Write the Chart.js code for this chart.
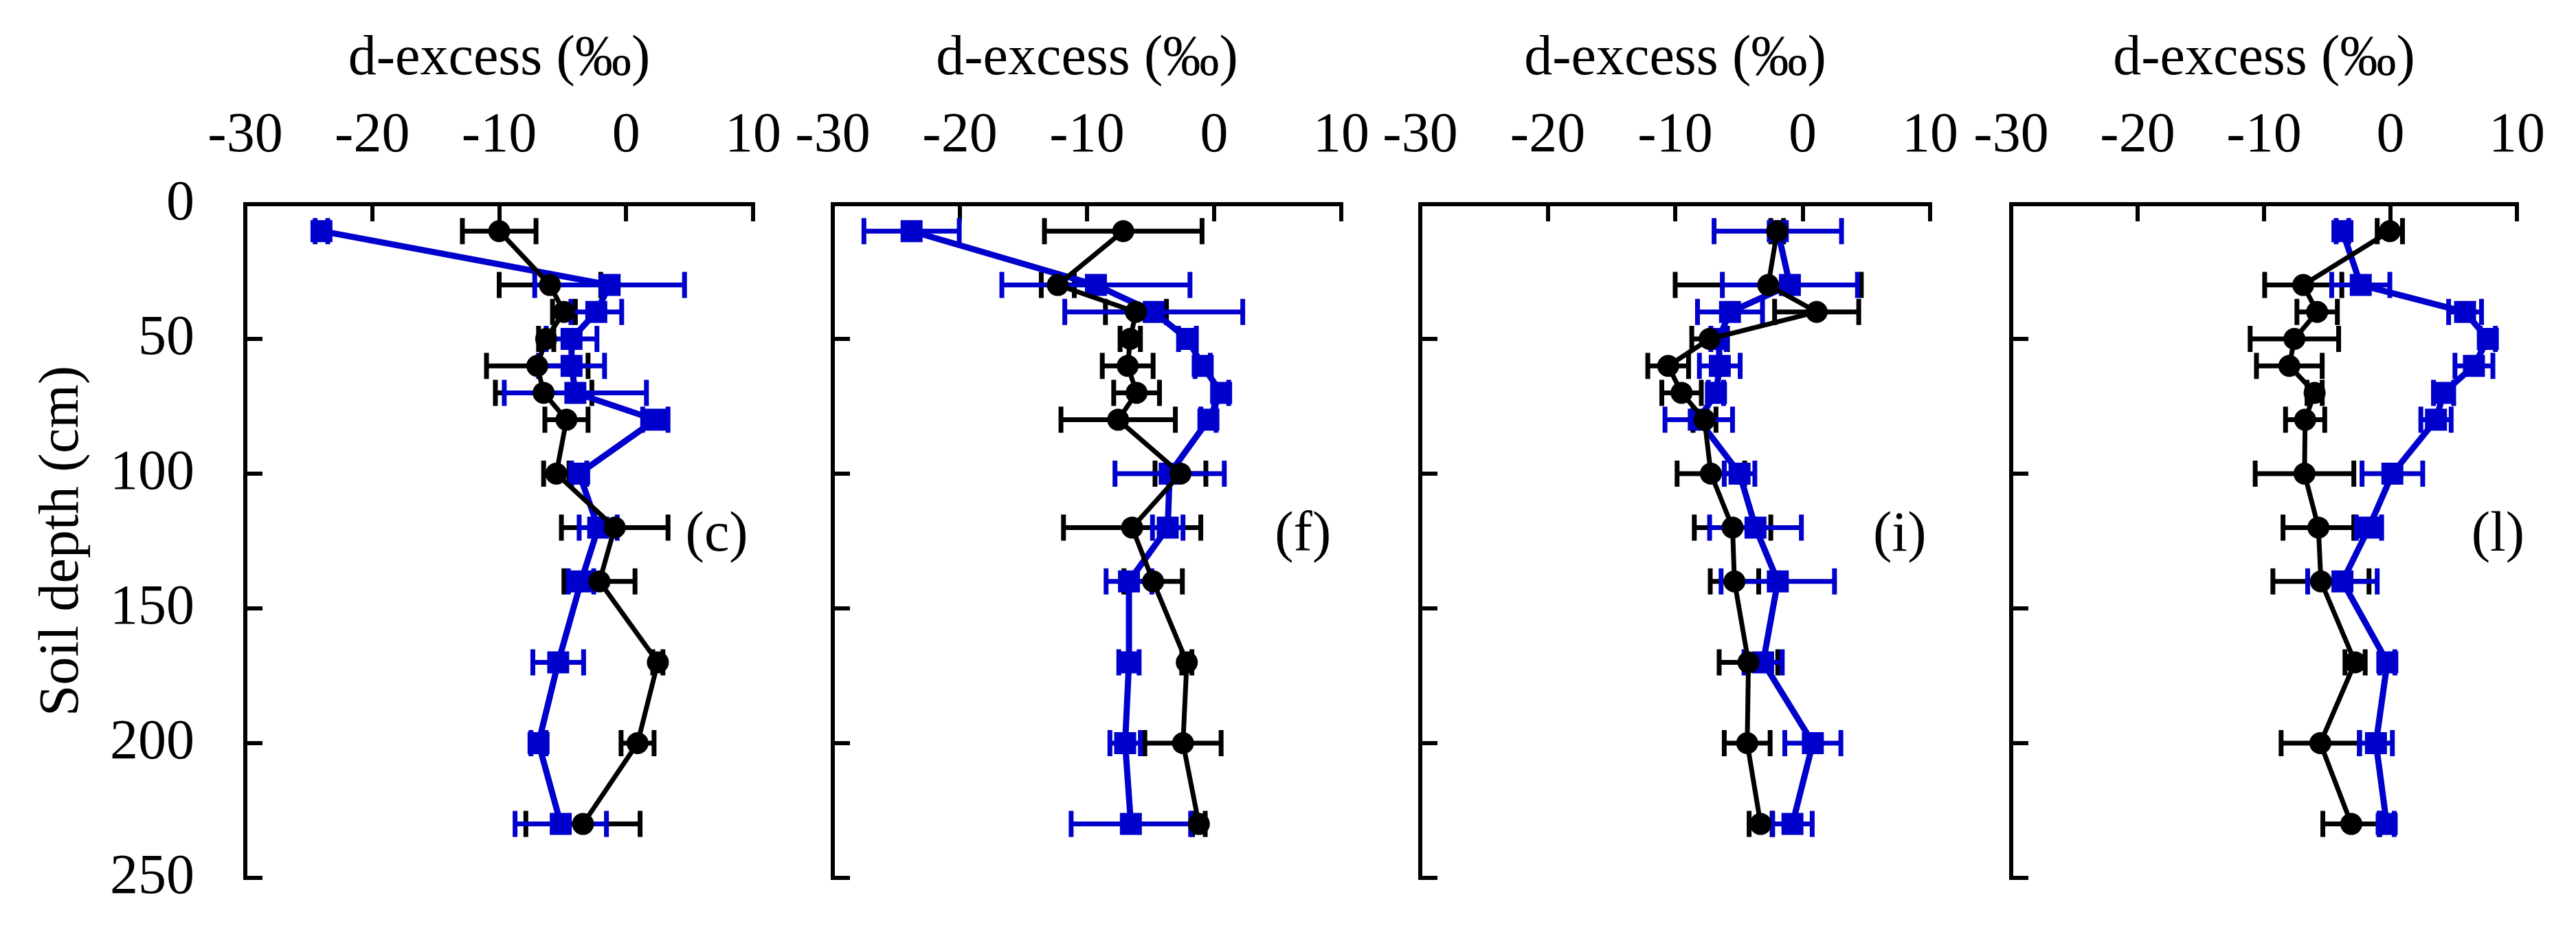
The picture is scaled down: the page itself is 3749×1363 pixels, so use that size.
<!DOCTYPE html>
<html>
<head>
<meta charset="utf-8">
<title>d-excess soil profiles</title>
<script src="https://cdn.jsdelivr.net/npm/chart.js@4.4.1/dist/chart.umd.min.js"></script>
<style>
  html, body { margin: 0; padding: 0; background: #fff; }
  body { width: 3749px; height: 1363px; position: relative; overflow: hidden; }
  canvas { position: absolute; top: 0; }
</style>
</head>
<body>
<canvas id="panel-c"></canvas>
<canvas id="panel-f"></canvas>
<canvas id="panel-i"></canvas>
<canvas id="panel-l"></canvas>
<script>
// sampling depths (cm), shared by every profile
const depths = [10, 30, 40, 50, 60, 70, 80, 100, 120, 140, 170, 200, 230];
const xTicks = [-30, -20, -10, 0, 10];
const yTicks = [0, 50, 100, 150, 200, 250];

// (c)
const cBlack    = [-10.0, -6.0, -4.9, -6.3, -7.0, -6.5, -4.7, -5.5, -0.9, -2.1, 2.5, 0.9, -3.4];
const cBlackErr = [2.9, 4.0, 0.9, 0.6, 4.0, 3.8, 1.7, 1.0, 4.2, 2.8, 0.4, 1.3, 4.5];
const cBlue     = [-24.0, -1.3, -2.35, -4.3, -4.3, -4.0, 2.3, -3.7, -2.2, -3.55, -5.35, -6.9, -5.15];
const cBlueErr  = [0.5, 5.9, 2.0, 2.0, 2.6, 5.6, 1.0, 0.6, 1.5, 1.0, 2.0, 0.6, 3.6];

// (f)
const fBlack    = [-7.15, -12.3, -6.15, -6.6, -6.8, -6.1, -7.55, -2.65, -6.45, -4.8, -2.15, -2.45, -1.2];
const fBlackErr = [6.2, 1.3, 2.4, 0.8, 2.0, 1.8, 4.5, 2.0, 5.4, 2.3, 0.4, 3.0, 0.5];
const fBlue     = [-23.8, -9.3, -4.75, -2.1, -0.9, 0.55, -0.45, -3.5, -3.65, -6.7, -6.7, -7.0, -6.55];
const fBlueErr  = [3.75, 7.4, 7.0, 0.7, 0.6, 0.6, 0.6, 4.3, 1.2, 1.8, 0.8, 1.2, 4.7];

// (i)
const iBlack    = [-2.0, -2.7, 1.1, -7.3, -10.55, -9.5, -7.7, -7.2, -5.5, -5.35, -4.25, -4.35, -3.3];
const iBlackErr = [0.5, 7.3, 3.3, 1.4, 1.6, 1.55, 0.9, 2.65, 3.0, 1.9, 2.3, 1.8, 0.9];
const iBlue     = [-1.95, -1.0, -5.7, -6.6, -6.5, -6.8, -8.15, -4.95, -3.7, -1.95, -3.1, 0.8, -0.8];
const iBlueErr  = [5.0, 5.3, 2.55, 0.6, 1.6, 0.6, 2.65, 1.2, 3.6, 4.45, 1.5, 2.2, 1.55];

// (l)
const lBlack    = [-0.05, -6.9, -5.8, -7.6, -8.0, -6.0, -6.75, -6.8, -5.7, -5.5, -2.8, -5.55, -3.1];
const lBlackErr = [1.0, 3.05, 1.6, 3.5, 2.6, 0.6, 1.55, 3.9, 2.8, 3.8, 0.8, 3.1, 2.25];
const lBlue     = [-3.8, -2.35, 5.9, 7.7, 6.6, 4.2, 3.6, 0.15, -1.7, -3.8, -0.25, -1.15, -0.3];
const lBlueErr  = [0.5, 2.3, 1.3, 0.6, 1.5, 0.8, 1.2, 2.4, 1.0, 2.75, 0.6, 1.3, 0.6];

const BLUE = '#0000cc';
const BLACK = '#000000';
const FONT = "'Liberation Serif', 'Times New Roman', serif";

Chart.defaults.font.family = FONT;
Chart.defaults.font.size = 82;
Chart.defaults.color = BLACK;

// horizontal error bars with end caps
const errorBars = {
  id: 'errorBars',
  beforeDatasetsDraw(chart) {
    const { ctx, scales: { x, y } } = chart;
    chart.data.datasets.forEach(ds => {
      if (!ds.errors) return;
      ctx.save();
      ctx.strokeStyle = ds.borderColor;
      ctx.lineWidth = 7;
      ds.data.forEach((p, i) => {
        const e = ds.errors[i];
        if (!e) return;
        const py = y.getPixelForValue(p.y);
        const x0 = x.getPixelForValue(p.x - e);
        const x1 = x.getPixelForValue(p.x + e);
        ctx.beginPath();
        ctx.moveTo(x0, py); ctx.lineTo(x1, py);
        ctx.moveTo(x0, py - 19); ctx.lineTo(x0, py + 19);
        ctx.moveTo(x1, py - 19); ctx.lineTo(x1, py + 19);
        ctx.stroke();
      });
      ctx.restore();
    });
  }
};

// panel letter, e.g. "(c)"
const panelLetter = {
  id: 'panelLetter',
  afterDraw(chart, args, opts) {
    const { ctx, scales: { x, y } } = chart;
    ctx.save();
    ctx.font = '82px ' + FONT;
    ctx.fillStyle = BLACK;
    ctx.textAlign = 'right';
    ctx.textBaseline = 'middle';
    ctx.fillText(opts.text, x.getPixelForValue(opts.x), y.getPixelForValue(opts.y));
    ctx.restore();
  }
};

const toPoints = vals => vals.map((v, i) => ({ x: v, y: depths[i] }));

const panels = [
  { id: 'panel-c', text: '(c)', textX: 9.6,  black: cBlack, blackErr: cBlackErr, blue: cBlue, blueErr: cBlueErr, plotLeft: 357,  plotRight: 1096, yWidth: 357, first: true },
  { id: 'panel-f', text: '(f)', textX: 9.2,  black: fBlack, blackErr: fBlackErr, blue: fBlue, blueErr: fBlueErr, plotLeft: 1212, plotRight: 1952, yWidth: 130 },
  { id: 'panel-i', text: '(i)', textX: 9.7,  black: iBlack, blackErr: iBlackErr, blue: iBlue, blueErr: iBlueErr, plotLeft: 2067, plotRight: 2809, yWidth: 130 },
  { id: 'panel-l', text: '(l)', textX: 10.6, black: lBlack, blackErr: lBlackErr, blue: lBlue, blueErr: lBlueErr, plotLeft: 2927, plotRight: 3663, yWidth: 130 }
];

const TOP = 297;      // plot top (x axis line)
const BOTTOM = 1277;  // plot bottom (250 cm)
const PAD_RIGHT = 80;

// fixed box size, and no extra label padding pushed into the layout
const fixSize = (s, w, h) => {
  if (w !== undefined) s.width = w;
  if (h !== undefined) s.height = h;
  s.paddingLeft = s.paddingRight = s.paddingTop = s.paddingBottom = 0;
};

panels.forEach(p => {
  const canvas = document.getElementById(p.id);
  const w = p.yWidth + (p.plotRight - p.plotLeft) + PAD_RIGHT;
  canvas.width = w;
  canvas.height = 1363;
  canvas.style.left = (p.plotLeft - p.yWidth) + 'px';
  canvas.style.width = w + 'px';
  canvas.style.height = '1363px';

  new Chart(canvas, {
    type: 'scatter',
    data: {
      datasets: [
        {
          data: toPoints(p.black),
          errors: p.blackErr,
          showLine: true,
          borderColor: BLACK,
          backgroundColor: BLACK,
          borderWidth: 7,
          pointStyle: 'circle',
          pointRadius: 16,
          pointBorderWidth: 0
        },
        {
          data: toPoints(p.blue),
          errors: p.blueErr,
          showLine: true,
          borderColor: BLUE,
          backgroundColor: BLUE,
          borderWidth: 9,
          pointStyle: 'rect',
          pointRadius: 22.6,
          pointBorderWidth: 0
        }
      ]
    },
    options: {
      responsive: false,
      animation: false,
      events: [],
      layout: { padding: { top: 0, left: 0, right: PAD_RIGHT, bottom: 1363 - BOTTOM } },
      plugins: {
        legend: { display: false },
        tooltip: { enabled: false },
        panelLetter: { text: p.text, x: p.textX, y: 123 }
      },
      scales: {
        x: {
          type: 'linear',
          position: 'top',
          min: xTicks[0],
          max: xTicks[xTicks.length - 1],
          afterFit: s => fixSize(s, undefined, TOP),
          ticks: { stepSize: xTicks[1] - xTicks[0], padding: 74, maxRotation: 0 },
          grid: { drawOnChartArea: false, drawTicks: true, tickLength: -25, lineWidth: 6, color: BLACK },
          border: { display: true, width: 6, color: BLACK },
          title: { display: true, text: 'd-excess (‰)', padding: { top: 37, bottom: 0 } }
        },
        y: {
          type: 'linear',
          position: 'left',
          reverse: true,
          min: yTicks[0],
          max: yTicks[yTicks.length - 1],
          afterFit: s => fixSize(s, p.yWidth, undefined),
          ticks: { display: !!p.first, stepSize: yTicks[1] - yTicks[0], padding: 99 },
          grid: { drawOnChartArea: false, drawTicks: true, tickLength: -25, lineWidth: 6, color: BLACK },
          border: { display: true, width: 6, color: BLACK },
          title: { display: !!p.first, text: 'Soil depth (cm)', padding: { top: 42, bottom: 0 } }
        }
      }
    },
    plugins: [errorBars, panelLetter]
  });
});
</script>
</body>
</html>
